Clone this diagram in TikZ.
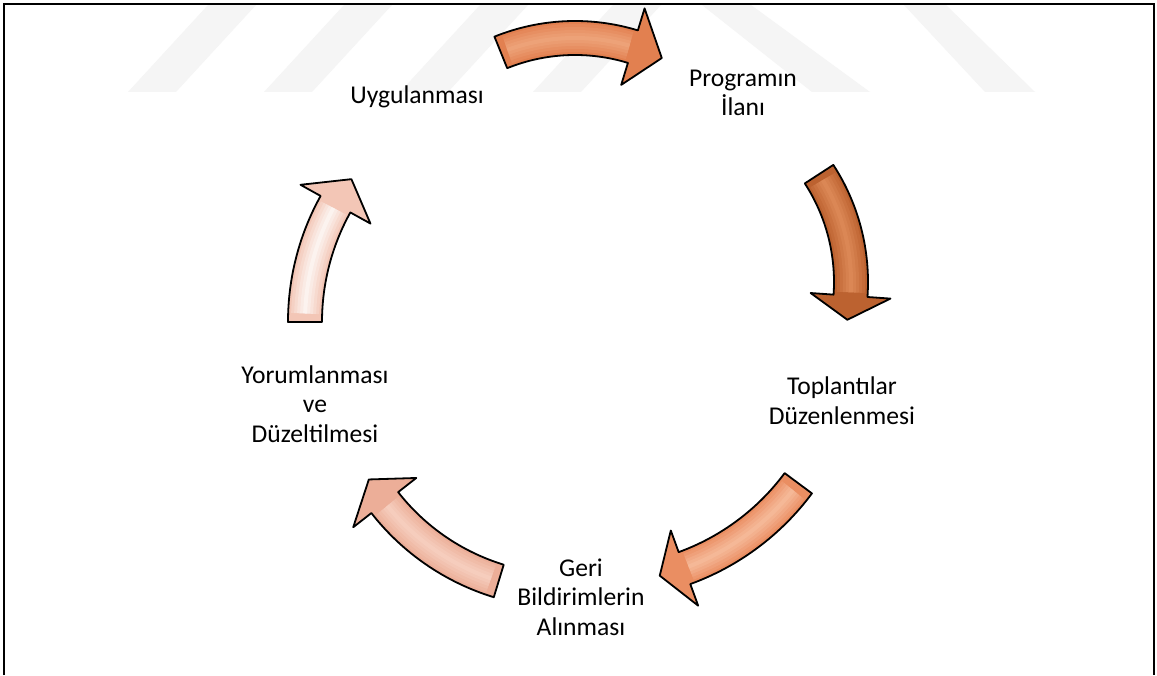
\documentclass[tikz,border=0pt]{standalone}
\usepackage{fontspec}
\setmainfont{Carlito}
\definecolor{arA}{RGB}{226,128,80}
\definecolor{arAhi}{RGB}{242,172,132}
\definecolor{arB}{RGB}{188,98,48}
\definecolor{arBhi}{RGB}{228,146,96}
\definecolor{arC}{RGB}{234,142,98}
\definecolor{arChi}{RGB}{250,196,166}
\definecolor{arD}{RGB}{236,174,152}
\definecolor{arDhi}{RGB}{250,214,200}
\definecolor{arE}{RGB}{243,198,182}
\tikzset{
  lbl/.style={font=\fontsize{12.8}{14.8}\selectfont,align=center,text=black},
  frame/.style={draw=black,line width=1.3pt},
  wmark/.style={fill=black!4},
  blk/.style={draw=black,line width=0.9pt,line join=round},
}
% curved block arrow: centre, radius, tail angle, head base angle, tip angle, fill, glow
\newcommand{\cyclearrow}[7]{%
  \begin{scope}[shift={(#1)}]
    \fill[#6] (#3:{#2+17}) arc[start angle=#3,end angle=#4,radius=#2+17]
      -- (#4:{#2+40}) -- (#5:#2) -- (#4:{#2-40}) -- (#4:{#2-17})
      arc[start angle=#4,end angle=#3,radius=#2-17] -- cycle;
    \foreach \w/\o in {28/0.2,22/0.2,16/0.25,10/0.3,4/0.4}
      \draw[#7,line width=\w*0.5pt,opacity=\o] (#3-2:#2) arc[start angle=#3-2,end angle=#4+1,radius=#2];
    \draw[blk] (#3:{#2+17}) arc[start angle=#3,end angle=#4,radius=#2+17]
      -- (#4:{#2+40}) -- (#5:#2) -- (#4:{#2-40}) -- (#4:{#2-17})
      arc[start angle=#4,end angle=#3,radius=#2-17] -- cycle;
  \end{scope}}

\begin{document}
\begin{tikzpicture}[x=0.5pt,y=0.5pt]
\useasboundingbox (0,0) rectangle (1157,675);
\fill[white] (0,0) rectangle (1157,675);
% stripes behind the chart
\fill[wmark] (128,583) -- (176,583) -- (256,670) -- (208,670) -- cycle;
\fill[wmark] (264,583) -- (312,583) -- (392,670) -- (344,670) -- cycle;
\fill[wmark] (400,583) -- (448,583) -- (528,670) -- (480,670) -- cycle;
\fill[wmark] (533,583) -- (581,583) -- (661,670) -- (613,670) -- cycle;
\fill[wmark] (702,670) -- (751,670) -- (870,583) -- (812,583) -- cycle;
\fill[wmark] (904,670) -- (946,670) -- (1035,583) -- (985,583) -- cycle;
\draw[frame] (4,0) -- (4,671) -- (1154,671) -- (1154,0);
\cyclearrow{575,439}{198}{112}{73}{64}{arA}{arAhi}
\cyclearrow{653,393}{198}{33}{-4}{-11}{arB}{arBhi}
\cyclearrow{600,339}{247}{-36.6}{-70}{-76}{arC}{arChi}
\cyclearrow{566,314}{230}{-107}{-142}{-149}{arD}{arDhi}
\cyclearrow{548,353}{243}{180}{151}{144}{arE}{white}
\node[lbl] (uyg) at (417,578) {Uygulanması};
\node[lbl] (ilan) at (743,582) {Programın\\İlanı};
\node[lbl] (topl) at (842,274) {Toplantılar\\Düzenlenmesi};
\node[lbl] (geri) at (581,78) {Geri\\Bildirimlerin\\Alınması};
\node[lbl] (yorum) at (315,271) {Yorumlanması\\ve\\Düzeltilmesi};
\end{tikzpicture}
\end{document}
